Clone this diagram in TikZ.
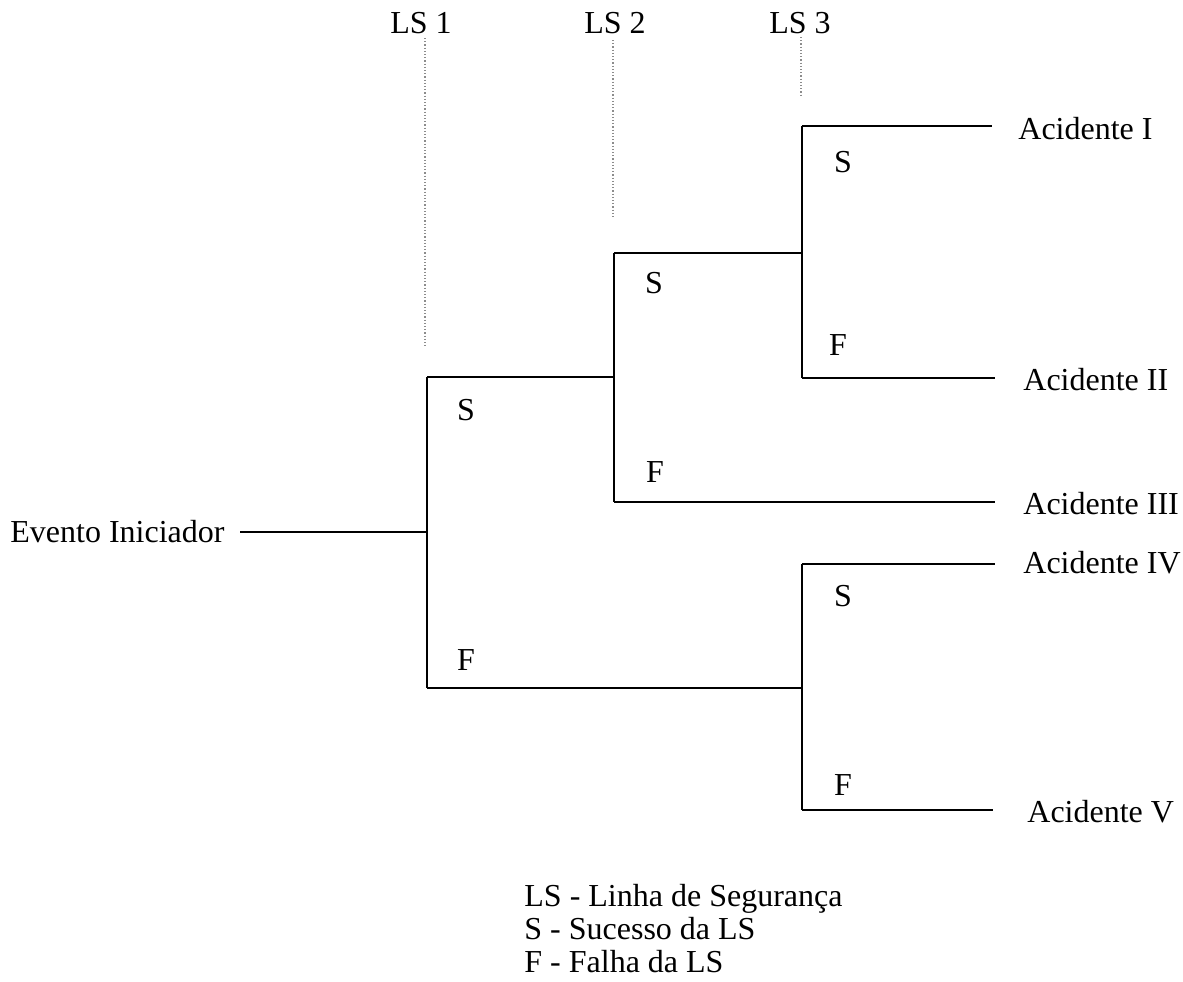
\documentclass[tikz,border=0pt]{standalone}
\usepackage{fontspec}
\setmainfont{Liberation Serif}
\begin{document}
\begin{tikzpicture}[x=0.5pt,y=-0.5pt,
  txt/.style={font=\fontsize{16}{19}\selectfont, inner sep=0pt},
  lbl/.style={font=\fontsize{16}{19}\selectfont, inner sep=0pt},
  branch/.style={line width=0.9pt, black},
  guide/.style={black!45, densely dotted, line width=0.6pt}]
\useasboundingbox (0,0) rectangle (1183,981);
% column headers
\node[txt, anchor=base] (ls1) at (421,33) {LS 1};
\node[txt, anchor=base] (ls2) at (615,33) {LS 2};
\node[txt, anchor=base] (ls3) at (800,33) {LS 3};
\coordinate (g1t) at (425,38);  \coordinate (g1b) at (425,347);
\coordinate (g2t) at (613,40);  \coordinate (g2b) at (613,218);
\coordinate (g3t) at (801,37);  \coordinate (g3b) at (801,97);
\draw[guide] (g1t) -- (g1b);
\draw[guide] (g2t) -- (g2b);
\draw[guide] (g3t) -- (g3b);
% initiating event
\node[txt, anchor=base west] (ei) at (10,542) {Evento Iniciador};
\coordinate (ei0) at (240,532);
\coordinate (n1) at (427,532);
\coordinate (n1t) at (427,377); \coordinate (n1b) at (427,688);
\coordinate (n2) at (614,377);
\coordinate (n2t) at (614,253); \coordinate (n2b) at (614,502);
\coordinate (n3) at (802,253);
\coordinate (n3t) at (802,126); \coordinate (n3b) at (802,378);
\coordinate (n4) at (802,688);
\coordinate (n4t) at (802,564); \coordinate (n4b) at (802,810);
\coordinate (e1) at (992,126);
\coordinate (e2) at (995,378);
\coordinate (e3) at (995,502);
\coordinate (e4) at (995,564);
\coordinate (e5) at (993,810);
\draw[branch] (ei0) -- (n1);
\draw[branch] (n1t) -- (n1b);
\draw[branch] (n1t) -- (n2);
\draw[branch] (n2t) -- (n2b);
\draw[branch] (n2t) -- (n3);
\draw[branch] (n3t) -- (n3b);
\draw[branch] (n3t) -- (e1);
\draw[branch] (n3b) -- (e2);
\draw[branch] (n2b) -- (e3);
\draw[branch] (n1b) -- (n4);
\draw[branch] (n4t) -- (n4b);
\draw[branch] (n4t) -- (e4);
\draw[branch] (n4b) -- (e5);
% outcomes
\node[txt, anchor=base west] (a1) at (1018,139) {Acidente I};
\node[txt, anchor=base west] (a2) at (1023,390) {Acidente II};
\node[txt, anchor=base west] (a3) at (1023,514) {Acidente III};
\node[txt, anchor=base west] (a4) at (1023,573) {Acidente IV};
\node[txt, anchor=base west] (a5) at (1027,822) {Acidente V};
% branch labels
\node[lbl] (s1) at (466,410) {S};
\node[lbl] (f1) at (466,660) {F};
\node[lbl] (s2) at (654,283) {S};
\node[lbl] (f2) at (655,472) {F};
\node[lbl] (s3) at (843,162) {S};
\node[lbl] (f3) at (838,345) {F};
\node[lbl] (s4) at (843,596) {S};
\node[lbl] (f4) at (843,785) {F};
% legend
\node[txt, anchor=base west] (leg1) at (524,906) {LS - Linha de Segurança};
\node[txt, anchor=base west] (leg2) at (524,939) {S - Sucesso da LS};
\node[txt, anchor=base west] (leg3) at (524,972) {F - Falha da LS};
\end{tikzpicture}
\end{document}
